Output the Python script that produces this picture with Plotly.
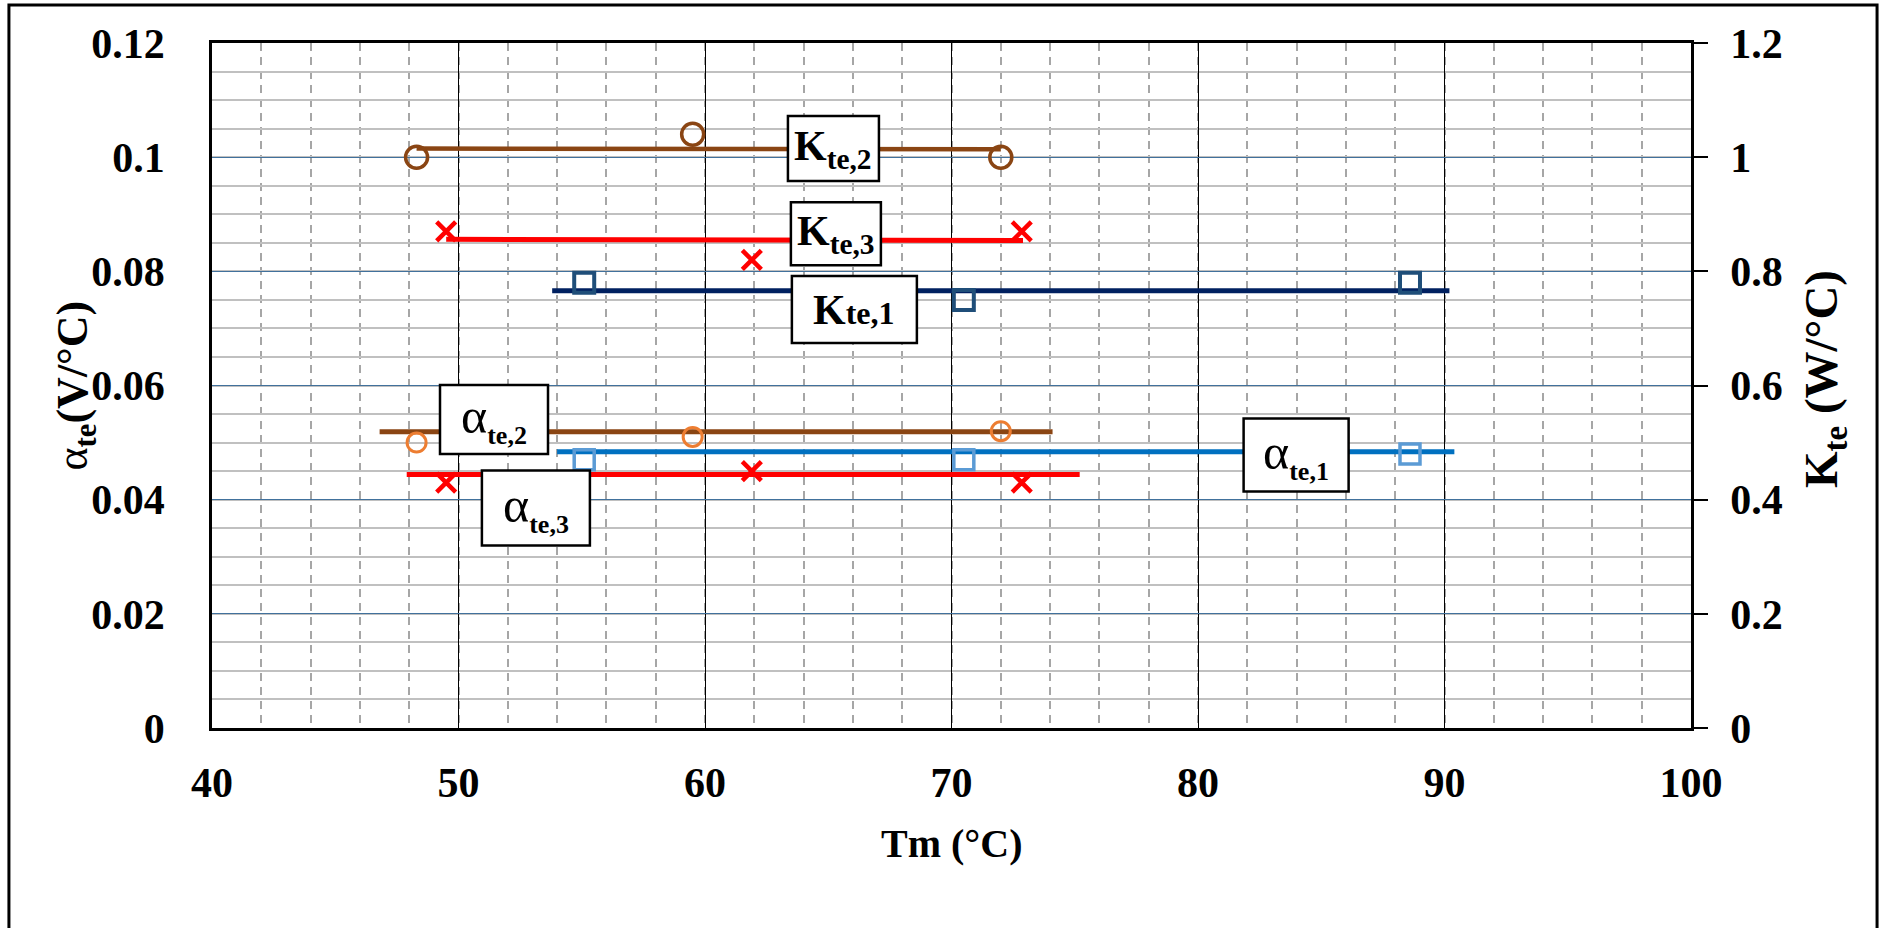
import plotly.graph_objects as go

# Mean temperature Tm (°C) for each module
tm_1 = [55.1, 70.5, 88.6]
tm_2 = [48.3, 59.5, 72.0]
tm_3 = [49.5, 61.9, 72.85]

# Thermal conductance K_te (W/°C)
k_1 = [0.78, 0.75, 0.78]
k_2 = [1.00, 1.04, 1.00]
k_3 = [0.87, 0.82, 0.87]

# Seebeck coefficient alpha_te (V/°C)
a_1 = [0.047, 0.047, 0.048]
a_2 = [0.050, 0.051, 0.052]
a_3 = [0.043, 0.045, 0.043]

# Trend lines: [start, end] temperatures and levels
k_1_fit_x, k_1_fit_y = [53.8, 90.2], [0.766, 0.766]
k_2_fit_x, k_2_fit_y = [48.3, 72.0], [1.015, 1.014]
k_3_fit_x, k_3_fit_y = [49.5, 72.9], [0.856, 0.854]
a_1_fit_x, a_1_fit_y = [54.0, 90.4], [0.0484, 0.0484]
a_2_fit_x, a_2_fit_y = [46.8, 74.1], [0.0519, 0.0519]
a_3_fit_x, a_3_fit_y = [47.9, 75.2], [0.0444, 0.0444]

# Axis ticks
x_ticks = [40, 50, 60, 70, 80, 90, 100]
y_ticks = [0, 0.02, 0.04, 0.06, 0.08, 0.1, 0.12]
y_tick_text = ["0", "0.02", "0.04", "0.06", "0.08", "0.1", "0.12"]
y2_ticks = [0, 0.2, 0.4, 0.6, 0.8, 1.0, 1.2]
y2_tick_text = ["0", "0.2", "0.4", "0.6", "0.8", "1", "1.2"]

FONT = "Liberation Serif, Times New Roman, serif"
BROWN = "#8a4513"
RED = "#ff0000"
NAVY = "#002060"
NAVY_MK = "#1f4e79"
BLUE = "#0070c0"
LIGHT_BLUE = "#5b9bd5"
ORANGE = "#ed7d31"

fig = go.Figure()


def fit_line(x, y, color, width, axis):
    fig.add_trace(go.Scatter(x=x, y=y, mode="lines", yaxis=axis,
                             line=dict(color=color, width=width),
                             hoverinfo="skip", showlegend=False))


def points(x, y, symbol, size, color, lw, axis):
    fig.add_trace(go.Scatter(x=x, y=y, mode="markers", yaxis=axis,
                             marker=dict(symbol=symbol, size=size, color=color,
                                         line=dict(color=color, width=lw)),
                             showlegend=False))


# fitted lines
fit_line(k_2_fit_x, k_2_fit_y, BROWN, 4.5, "y2")
fit_line(k_3_fit_x, k_3_fit_y, RED, 5, "y2")
fit_line(k_1_fit_x, k_1_fit_y, NAVY, 5, "y2")
fit_line(a_2_fit_x, a_2_fit_y, BROWN, 5, "y")
fit_line(a_1_fit_x, a_1_fit_y, BLUE, 5, "y")
fit_line(a_3_fit_x, a_3_fit_y, RED, 5, "y")

# measured points
points(tm_2, k_2, "circle-open", 22, BROWN, 3.5, "y2")
points(tm_3, k_3, "x-thin", 19, RED, 4.5, "y2")
points(tm_1, k_1, "square-open", 20, NAVY_MK, 4, "y2")
points(tm_2, a_2, "circle-open", 19, ORANGE, 3, "y")
points(tm_3, a_3, "x-thin", 19, RED, 4.5, "y")
points(tm_1, a_1, "square-open", 20, LIGHT_BLUE, 3.5, "y")

# Series labels in boxes: (text, x, y, axis, box width px, box height px)
SUB_A = "<sub><b><span style='font-size:26px'>%s</span></b></sub>"
labels = [
    ("<b>K<sub>te,2</sub></b>", 65.21, 1.015, "y2", 91, 65),
    ("<b>K<sub>te,3</sub></b>", 65.31, 0.866, "y2", 90, 63),
    ("<b>K<span style='font-size:32px'>te,1</span></b>", 66.06, 0.733, "y2", 125, 67),
    ("α" + SUB_A % "te,2", 51.44, 0.05405, "y", 108, 69),
    ("α" + SUB_A % "te,3", 53.14, 0.03854, "y", 108, 75),
    ("α" + SUB_A % "te,1", 83.98, 0.04783, "y", 105, 73),
]
for text, lx, ly, ax, w, h in labels:
    fig.add_shape(type="rect", xref="x", yref=ax, layer="above",
                  xsizemode="pixel", ysizemode="pixel",
                  xanchor=lx, yanchor=ly,
                  x0=-w / 2, x1=w / 2, y0=-h / 2, y1=h / 2,
                  line=dict(color="black", width=2.5), fillcolor="white")
    size = 42 if text.startswith("<b>K") else 50
    fig.add_annotation(x=lx, y=ly, xref="x", yref=ax, text=text,
                       showarrow=False, xanchor="center", yanchor="middle",
                       font=dict(family=FONT, size=size, color="black"))

# Axis titles
fig.add_annotation(xref="paper", yref="paper", x=-0.0926, y=0.5,
                   text="α<b><sub>te</sub>(V/°C)</b>", textangle=-90,
                   showarrow=False, xanchor="center", yanchor="middle",
                   font=dict(family=FONT, size=44, color="black"))
fig.add_annotation(xref="paper", yref="paper", x=1.0906, y=0.5095,
                   text="<b>K<sub>te</sub> (W/°C)</b>", textangle=-90,
                   showarrow=False, xanchor="center", yanchor="middle",
                   font=dict(family=FONT, size=47, color="black"))
fig.add_annotation(xref="paper", yref="paper", x=0.5, y=-0.168,
                   text="<b>Tm (°C)</b>",
                   showarrow=False, xanchor="center", yanchor="middle",
                   font=dict(family=FONT, size=40, color="black"))

# Outer frame
fig.add_shape(type="rect", xref="paper", yref="paper",
              x0=-0.1373, x1=1.1258, y0=-0.31, y1=1.0555,
              line=dict(color="black", width=3), fillcolor="rgba(0,0,0,0)")

tick_font = dict(family=FONT, size=42, color="black", weight="bold")

fig.update_layout(
    width=1879, height=928,
    margin=dict(l=212, r=188, t=43, b=200),
    paper_bgcolor="white", plot_bgcolor="white",
    showlegend=False,
    xaxis=dict(range=[40, 100], tickvals=x_ticks, ticks="",
               showgrid=True, gridcolor="black", gridwidth=1,
               minor=dict(dtick=2, showgrid=True, gridcolor="#a6a6a6",
                          gridwidth=1.5, griddash="8px,6px"),
               showline=True, mirror=True, linecolor="black", linewidth=2.5,
               zeroline=False, tickfont=tick_font, ticklabelstandoff=16),
    yaxis=dict(range=[0, 0.12], tickvals=y_ticks, ticktext=y_tick_text,
               ticks="", showgrid=True, gridcolor="#41719c", gridwidth=1.3,
               minor=dict(dtick=0.005, showgrid=True, gridcolor="#c0c0c0",
                          gridwidth=1.5),
               showline=True, mirror=True, linecolor="black", linewidth=2.5,
               zeroline=False, tickfont=tick_font, ticklabelstandoff=36),
    yaxis2=dict(range=[0, 1.2], overlaying="y", side="right",
                tickvals=y2_ticks, ticktext=y2_tick_text,
                ticks="outside", ticklen=14, tickwidth=2, tickcolor="black",
                showgrid=False, zeroline=False,
                showline=True, linecolor="black", linewidth=2.5,
                tickfont=tick_font, ticklabelstandoff=14),
)

fig.write_html("out.html")
